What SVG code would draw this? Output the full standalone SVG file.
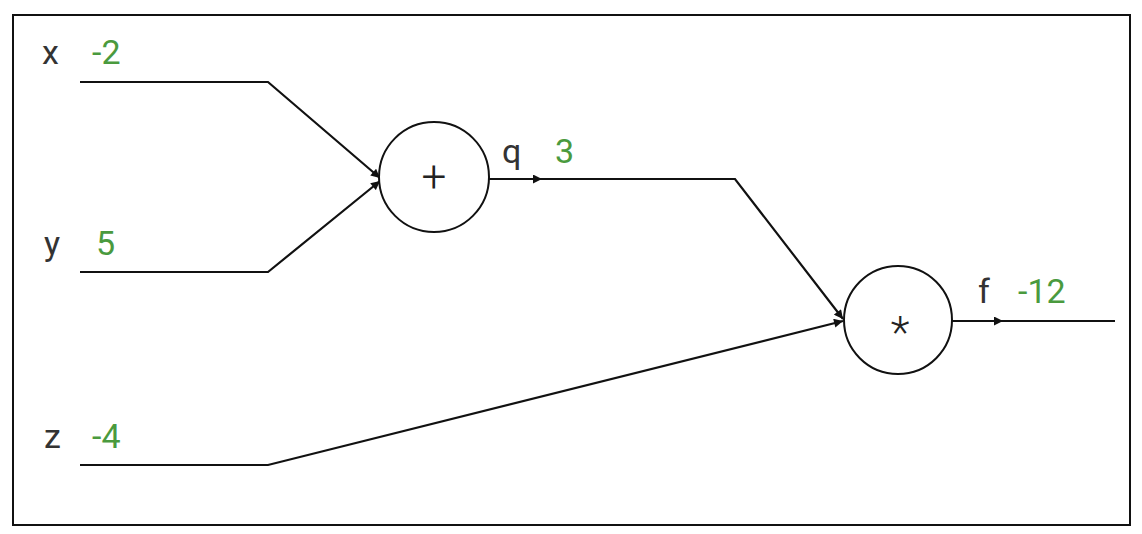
<svg xmlns="http://www.w3.org/2000/svg" width="1142" height="534" viewBox="0 0 1142 534">
<defs>
<marker id="ah" viewBox="0 0 10 10" refX="10" refY="5" markerWidth="11" markerHeight="9" markerUnits="userSpaceOnUse" orient="auto"><path d="M0,0 L10,5 L0,10 z" fill="#111"/></marker>
</defs>
<style>
.l{fill:none;stroke:#111;stroke-width:2.2}
.n{fill:#fff;stroke:#111;stroke-width:2}
.t{font-family:Roboto,"Liberation Sans",sans-serif;font-size:34px;fill:#333}
.g{font-family:Roboto,"Liberation Sans",sans-serif;font-size:34px;fill:#4a9a3e}
.o{font-family:Roboto,"Liberation Sans",sans-serif;font-size:44px;font-weight:300;fill:#222;text-anchor:middle}
</style>
<rect x="0" y="0" width="1142" height="534" fill="#fff"/>
<rect x="13" y="15" width="1117" height="510" fill="none" stroke="#111" stroke-width="2"/>
<g id="connectors">
<polyline class="l" points="80,82 268,82 380,178" marker-end="url(#ah)"/>
<polyline class="l" points="80,272 268,272 380,181" marker-end="url(#ah)"/>
<polyline class="l" points="80,465 268,465 843,321" marker-end="url(#ah)"/>
<polyline class="l" points="489,179 542,179" marker-end="url(#ah)"/>
<polyline class="l" points="540,179 735,179 843,319" marker-end="url(#ah)"/>
<polyline class="l" points="952,321 1003,321" marker-end="url(#ah)"/>
<line class="l" x1="1000" y1="321" x2="1115" y2="321"/>
</g>
<g id="x"><text class="t" x="42" y="64">x</text><text class="g" x="92" y="64">-2</text></g>
<g id="y"><text class="t" x="44" y="255">y</text><text class="g" x="96" y="255">5</text></g>
<g id="z"><text class="t" x="44" y="448">z</text><text class="g" x="92" y="448">-4</text></g>
<g id="plus"><circle class="n" cx="434" cy="177" r="55"/><text class="o" x="434" y="192">+</text></g>
<g id="q"><text class="t" x="502" y="163">q</text><text class="g" x="555" y="163">3</text></g>
<g id="mul"><circle class="n" cx="898" cy="320" r="54"/><text class="o" x="900" y="348">*</text></g>
<g id="f"><text class="t" x="978" y="303">f</text><text class="g" x="1018" y="303">-12</text></g>
</svg>
